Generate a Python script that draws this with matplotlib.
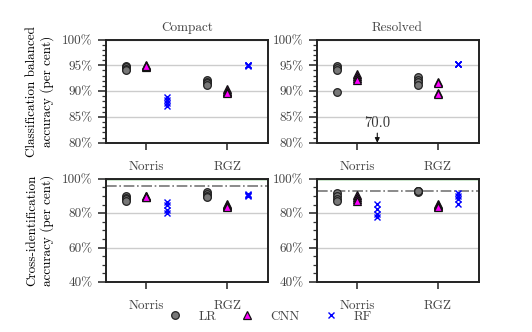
import numpy as np
import matplotlib
matplotlib.use("Agg")
import matplotlib.pyplot as plt
from matplotlib.ticker import MultipleLocator, FuncFormatter

plt.rcParams['font.family'] = ['cmr10', 'DejaVu Serif']
plt.rcParams['axes.formatter.use_mathtext'] = True
plt.rcParams['text.color'] = '#444444'
plt.rcParams['xtick.color'] = '#333333'
plt.rcParams['ytick.color'] = '#333333'
plt.rcParams['xtick.labelcolor'] = '#444444'
plt.rcParams['ytick.labelcolor'] = '#444444'

sets = ['Norris', 'RGZ']
methods = ['LR', 'CNN', 'RF']

# classification balanced accuracy (per cent), four runs each
cls_compact_lr = [[94.9, 94.6, 94.3, 94.0], [92.1, 91.8, 91.5, 91.2]]
cls_compact_cnn = [[95.0, 94.9, 94.7, 94.8], [90.4, 90.1, 89.8, 89.6]]
cls_compact_rf = [[88.8, 88.2, 87.7, 87.2], [95.1, 95.0, 95.0, 94.9]]
cls_resolved_lr = [[94.8, 94.4, 94.0, 89.8], [92.7, 92.2, 91.7, 91.2]]
cls_resolved_cnn = [[93.4, 92.9, 92.5, 92.1], [91.8, 91.6, 89.6, 89.4]]
cls_resolved_rf = [[70.0, 70.0, 70.0, 70.0], [95.2, 95.2, 95.2, 95.2]]

# cross-identification accuracy (per cent)
xid_compact_lr = [[90.2, 89.0, 88.0, 87.3], [92.2, 91.0, 90.0, 89.4]]
xid_compact_cnn = [[89.8, 89.6, 89.7, 89.5], [85.5, 84.8, 84.2, 83.8]]
xid_compact_rf = [[86.3, 84.8, 82.0, 80.2], [91.3, 90.8, 90.4, 90.1]]
xid_resolved_lr = [[91.5, 90.0, 88.5, 86.8], [92.7, 92.6, 92.5, 92.6]]
xid_resolved_cnn = [[90.5, 89.5, 88.0, 87.0], [85.4, 84.5, 84.0, 83.8]]
xid_resolved_rf = [[85.5, 82.5, 79.5, 77.5], [91.5, 90.0, 88.0, 85.2]]

# reference lines on the cross-identification panels
perfect = 99.6
nearest_compact = 95.9
nearest_resolved = 93.0
off_chart_label = '70.0'

offsets = [-0.25, 0.0, 0.25]
styles = [
    dict(marker='o', color='#777777', markeredgecolor='#222222', markersize=5.5, markeredgewidth=0.9, linestyle='none'),
    dict(marker='^', color='#ff00ff', markeredgecolor='#111111', markersize=5.5, markeredgewidth=0.9, linestyle='none'),
    dict(marker='x', color='#0000ff', markersize=5, markeredgewidth=1.0, linestyle='none'),
]

fs = 9.5
fig = plt.figure(figsize=(5.32, 3.32), dpi=100)
w, h = 0.3045, 0.311
axes = {
    ('cls', 'compact'): fig.add_axes([0.199, 0.570, w, h]),
    ('cls', 'resolved'): fig.add_axes([0.595, 0.570, w, h]),
    ('xid', 'compact'): fig.add_axes([0.199, 0.1506, w, h]),
    ('xid', 'resolved'): fig.add_axes([0.595, 0.1506, w, h]),
}
data = {
    ('cls', 'compact'): [cls_compact_lr, cls_compact_cnn, cls_compact_rf],
    ('cls', 'resolved'): [cls_resolved_lr, cls_resolved_cnn, cls_resolved_rf],
    ('xid', 'compact'): [xid_compact_lr, xid_compact_cnn, xid_compact_rf],
    ('xid', 'resolved'): [xid_resolved_lr, xid_resolved_cnn, xid_resolved_rf],
}

pct = FuncFormatter(lambda v, p: '{:d}%'.format(int(round(v))))
handles = []
for key, ax in axes.items():
    kind, sub = key
    for m, series in enumerate(data[key]):
        for i, vals in enumerate(series):
            l, = ax.plot([i + offsets[m]] * len(vals), vals, clip_on=True, zorder=3, **styles[m])
            if key == ('cls', 'compact') and i == 0:
                handles.append(l)
    ax.set_xlim(-0.5, 1.5)
    ax.set_xticks(range(len(sets)))
    ax.set_xticklabels(sets, fontsize=fs)
    ax.tick_params(axis='x', length=5, width=1.2, pad=8)
    if kind == 'cls':
        ax.set_ylim(80, 100)
        ax.yaxis.set_major_locator(MultipleLocator(5))
        ax.yaxis.set_minor_locator(MultipleLocator(1))
    else:
        ax.set_ylim(40, 100)
        ax.yaxis.set_major_locator(MultipleLocator(20))
        ax.yaxis.set_minor_locator(MultipleLocator(5))
        ax.axhline(perfect, color='#33aa33', lw=1.0, zorder=2)
        ax.axhline(nearest_compact if sub == 'compact' else nearest_resolved,
                   color='#777777', lw=1.2, linestyle='-.', zorder=2)
    ax.yaxis.set_major_formatter(pct)
    ax.tick_params(axis='y', which='major', length=6, width=1.2, labelsize=fs)
    ax.tick_params(axis='y', which='minor', length=3, width=0.9)
    ax.yaxis.grid(True, which='major', color='#cccccc', lw=1.0, zorder=0)
    ax.set_axisbelow(True)
    for s in ax.spines.values():
        s.set_linewidth(1.4)
        s.set_color('#222222')

axes[('cls', 'compact')].set_title('Compact', fontsize=fs, pad=6)
axes[('cls', 'resolved')].set_title('Resolved', fontsize=fs, pad=6)
axes[('cls', 'compact')].set_ylabel('Classification balanced\naccuracy (per cent)', fontsize=fs, labelpad=6)
axes[('xid', 'compact')].set_ylabel('Cross-identification\naccuracy (per cent)', fontsize=fs, labelpad=6)

# RF resolved Norris value is off the chart
ax = axes[('cls', 'resolved')]
ax.annotate(off_chart_label, xy=(0 + offsets[2], 80), xytext=(0 + offsets[2], 82.4),
            ha='center', va='bottom', fontsize=10.5, color='#333333',
            arrowprops=dict(arrowstyle='-|>', color='#111111', lw=0.8, mutation_scale=7,
                            shrinkA=0, shrinkB=0))

fig.legend(handles, methods, loc='center', bbox_to_anchor=(0.505, 0.046), ncol=3,
           frameon=False, fontsize=fs, columnspacing=1.6, handletextpad=1.0, handlelength=1.5)

fig.savefig('out.png', dpi=100)
